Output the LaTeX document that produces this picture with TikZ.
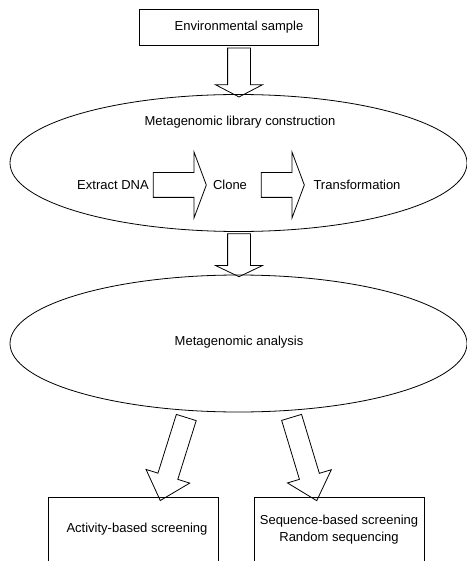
\documentclass[tikz,border=0pt]{standalone}
\usepackage{fontspec}
\setmainfont{Liberation Sans}
\usetikzlibrary{shapes.geometric,shapes.arrows}

\tikzset{
  box/.style={draw, line width=0.8pt, inner sep=0pt},
  oval/.style={draw, ellipse, line width=0.8pt, minimum width=457pt, minimum height=137pt, inner sep=0pt},
  txt/.style={font=\fontsize{13}{17}\selectfont, align=center, inner sep=0pt},
  fat/.style={draw, single arrow, line width=0.8pt, inner xsep=0pt},
}

\begin{document}
\begin{tikzpicture}[x=1pt,y=-1pt]
    \useasboundingbox (0,0) rectangle (466,561);

    % boxes and ovals
    \node[box, minimum width=179pt, minimum height=36pt] (env) at (228.5,27) {};
    \node[txt] (envtext) at (239,27) {Environmental sample};
    \node[oval] (lib) at (238.5,163) {};
    \node[oval] (ana) at (238.5,343.5) {};
    \node[box, minimum width=170pt, minimum height=100pt, anchor=north] (act) at (133,497) {};
    \node[box, minimum width=170pt, minimum height=100pt, anchor=north] (seq) at (339,497) {};

    % texts
    \node[txt] (libtext) at (240,122) {Metagenomic library construction};
    \node[txt] (dna) at (113,185) {Extract DNA};
    \node[txt] (clone) at (230,185) {Clone};
    \node[txt] (trans) at (357,185) {Transformation};
    \node[txt] (anatext) at (239,342) {Metagenomic analysis};
    \node[txt] (acttext) at (137,529) {Activity-based screening};
    \node[txt] (seqtext) at (339,529.5) {Sequence-based screening\\Random sequencing};

    % arrows down
    \node[fat, inner ysep=11pt, single arrow head extend=12pt, single arrow tip angle=125,
          minimum height=49pt, rotate=-90] (envlib) at (239,69.5) {};
    \node[fat, inner ysep=11pt, single arrow head extend=12pt, single arrow tip angle=129,
          minimum height=43pt, rotate=-90] (libana) at (239,252.5) {};

    % arrows inside the library oval
    \node[fat, inner ysep=12pt, single arrow head extend=20.5pt, single arrow tip angle=139,
          minimum height=53pt] (dnaclone) at (177.5,185) {};
    \node[fat, inner ysep=12pt, single arrow head extend=20.5pt, single arrow tip angle=139,
          minimum height=43pt] (clonetrans) at (280.5,185) {};

    % arrows to the screenings
    \node[fat, inner ysep=10pt, single arrow head extend=12.5pt, single arrow tip angle=84,
          minimum height=87pt, rotate=-107.4] (anaact) at (175,453.5) {};
    \node[fat, inner ysep=10pt, single arrow head extend=12.5pt, single arrow tip angle=84,
          minimum height=87pt, rotate=-73.2] (anaseq) at (302.5,453.5) {};
\end{tikzpicture}
\end{document}
